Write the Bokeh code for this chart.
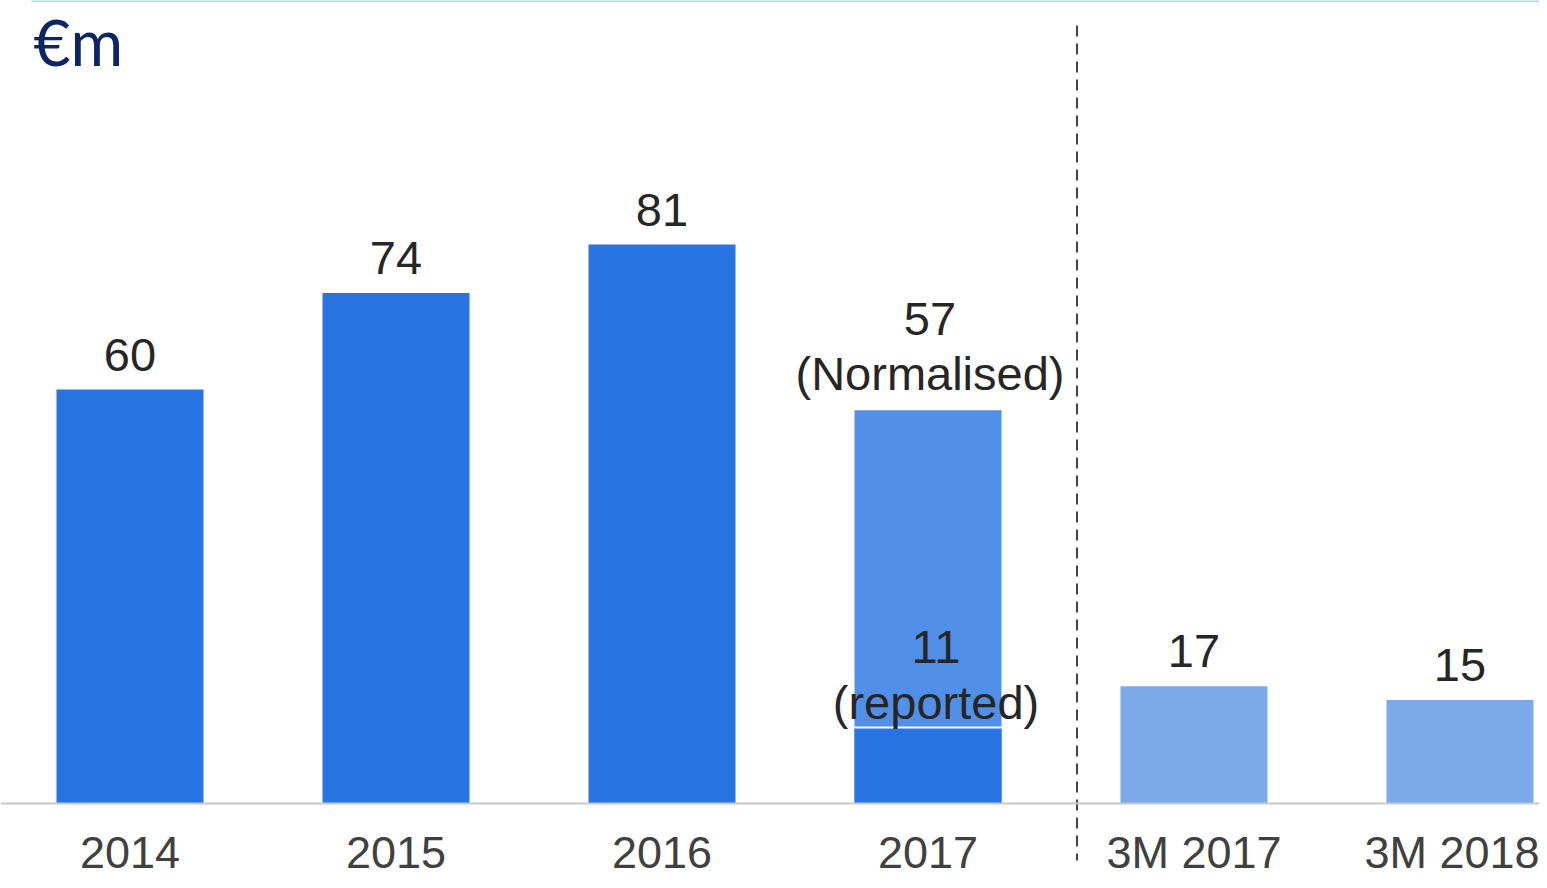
from bokeh.plotting import figure
from bokeh.models import Range1d, FixedTicker, LinearAxis, Label, ColumnDataSource
from bokeh.core.properties import value
from bokeh.embed import file_html
from bokeh.resources import INLINE

# ---- data ----
categories = ["2014", "2015", "2016", "2017", "3M 2017", "3M 2018"]
values = [60, 74, 81, 57, 17, 15]
notes = ["", "", "", "(Normalised)", "", ""]
reported_2017 = 11
reported_note = "(reported)"
reported_index = 3
unit_label = "€m"

# ---- styles ----
bar_colors = ["#2874E0", "#2874E0", "#2874E0", "#528FE6", "#7BAAEB", "#7BAAEB"]
dark_blue = "#2874E0"
FONT = "Liberation Sans"

W, H = 1539, 880
px_per_x = 266.0
px_per_y = 6.9
x0_px = 129.5     # canvas x of first category centre
y0_px = 803.0     # canvas y of zero line (from top)
bar_w = 147.0 / px_per_x

x_range = Range1d(-x0_px / px_per_x, (W - x0_px) / px_per_x)
y_range = Range1d(-(H - y0_px) / px_per_y, y0_px / px_per_y)


def ypx(canvas_y):
    return (y0_px - canvas_y) / px_per_y


def xpx(canvas_x):
    return (canvas_x - x0_px) / px_per_x


p = figure(width=W, height=H, x_range=x_range, y_range=y_range,
           output_backend="svg", toolbar_location=None,
           x_axis_location=None, y_axis_location=None,
           min_border=0, outline_line_color=None, background_fill_color="white",
           border_fill_color="white")
p.xgrid.visible = False
p.ygrid.visible = False

xs = list(range(len(categories)))
single = [i for i, n in enumerate(notes) if not n]
multi = [i for i, n in enumerate(notes) if n]
src = ColumnDataSource(dict(x=xs, top=values, color=bar_colors))
src_single = ColumnDataSource(dict(x=[xs[i] for i in single],
                                   top=[values[i] for i in single],
                                   label=[f"{values[i]}" for i in single]))
src_multi = ColumnDataSource(dict(x=[xs[i] for i in multi],
                                  top=[values[i] for i in multi],
                                  label=[f"{values[i]}\n{notes[i]}" for i in multi]))

p.vbar(x="x", top="top", bottom=0, width=bar_w, fill_color="color",
       line_color=None, source=src)

# reported part of 2017
p.vbar(x=[reported_index], top=[reported_2017], bottom=0, width=bar_w,
       fill_color=dark_blue, line_color=None)
p.segment(x0=[reported_index - bar_w / 2], x1=[reported_index + bar_w / 2],
          y0=[reported_2017], y1=[reported_2017], line_color="white", line_width=2)

label_style = dict(text_align="center", text_baseline="bottom",
                   text_font=value(FONT), text_font_size="47px",
                   text_color="#262626", text_line_height=1.05)
p.text(x="x", y="top", text="label", source=src_single, y_offset=-19, **label_style)
p.text(x="x", y="top", text="label", source=src_multi, y_offset=-10, x_offset=2,
       **label_style)
p.text(x=[reported_index], y=[reported_2017],
       text=[f"{reported_2017}\n{reported_note}"], y_offset=1, x_offset=8,
       **label_style)

# divider (dashed)
divider_x = xpx(1076.5)
p.segment(x0=[divider_x], x1=[divider_x], y0=[ypx(25)], y1=[ypx(860)],
          line_color="#444444", line_width=2, line_dash="11 7")

# top thin line
p.segment(x0=[xpx(31)], x1=[x_range.end], y0=[ypx(0.5)], y1=[ypx(0.5)],
          line_color="#B4D4F7", line_width=2)

# x axis at zero
xaxis = LinearAxis(fixed_location=0, ticker=FixedTicker(ticks=xs),
                   major_label_overrides={i: c for i, c in enumerate(categories)})
xaxis.axis_line_color = "#C8C8C8"
xaxis.axis_line_width = 2
xaxis.major_tick_line_color = None
xaxis.minor_tick_line_color = None
xaxis.major_tick_out = 0
xaxis.major_tick_in = 0
xaxis.major_label_standoff = 23
xaxis.major_label_text_font = FONT
xaxis.major_label_text_font_size = "45px"
xaxis.major_label_text_color = "#404040"
p.add_layout(xaxis, "below")

# unit label
p.add_layout(Label(x=xpx(33), y=ypx(2), text=unit_label,
                   text_font="Lato", text_font_size="64px",
                   text_color="#0B2566", text_baseline="top"))

open("out.html", "w").write(file_html(p, INLINE))
